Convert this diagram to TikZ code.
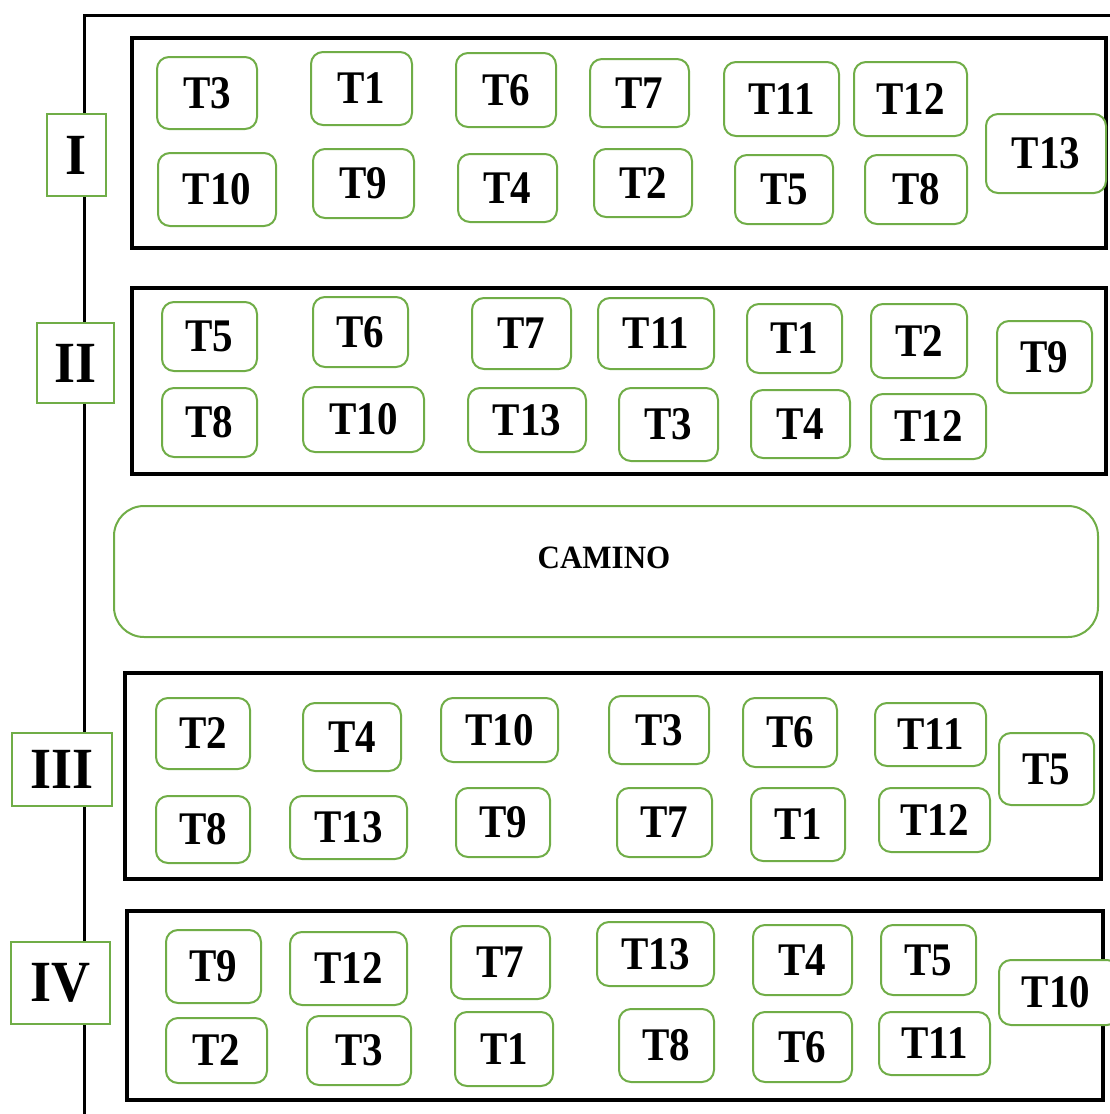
\documentclass[tikz,border=0pt]{standalone}
\usepackage{fontspec}
\usepackage{graphicx}
\setmainfont{Liberation Serif}
\definecolor{tgreen}{RGB}{112,173,71}
\tikzset{
  tile/.style={draw=tgreen, line width=1pt, rounded corners=6pt, fill=white, inner sep=0pt,
    font=\fontsize{20.5}{24}\selectfont\bfseries},
  seclabel/.style={draw=tgreen, line width=1pt, fill=white, inner sep=0pt,
    font=\fontsize{27}{30}\selectfont\bfseries},
  secbox/.style={draw=black, line width=2pt, inner sep=0pt},
  road/.style={draw=tgreen, line width=1pt, rounded corners=15pt, inner sep=0pt,
    font=\fontsize{15}{18}\selectfont\bfseries},
}
% generic box given by pixel corners (x1,y1)-(x2,y2)
\newcommand\pxbox[7]{%
  \pgfmathsetmacro\bxw{(#5-#3)*0.5}%
  \pgfmathsetmacro\bxh{(#6-#4)*0.5}%
  \node[#1, minimum width=\bxw pt, minimum height=\bxh pt] (#2) at ({(#3+#5)/2},{(#4+#6)/2}) {#7};}
\newcommand\tl[6]{\pxbox{tile}{#1}{#2}{#3}{#4}{#5}{\raisebox{-1pt}{\scalebox{1}[1.14]{#6}}}}
\begin{document}
\begin{tikzpicture}[x=0.5pt,y=-0.5pt]
\useasboundingbox (0,0) rectangle (1109,1114);
% outer frame
\coordinate (frTR) at (1130,15);
\coordinate (frTL) at (84,15);
\coordinate (frBL) at (84,1130);
\draw[line width=1.5pt] (frTR) -- (frTL) -- (frBL);
% section boxes
\pxbox{secbox}{secI}{132}{38}{1106}{248}{}
\pxbox{secbox}{secII}{132}{288}{1106}{474}{}
\pxbox{secbox}{secIII}{125}{673}{1101}{879}{}
\pxbox{secbox}{secIV}{127}{911}{1103}{1100}{}
% section labels
\pxbox{seclabel}{labI}{47}{114}{106}{196}{\scalebox{1}[1.08]{I}}
\pxbox{seclabel}{labII}{37}{323}{114}{403}{\scalebox{1}[1.08]{II}}
\pxbox{seclabel}{labIII}{12}{733}{112}{806}{\scalebox{1}[1.08]{III}}
\pxbox{seclabel}{labIV}{11}{942}{110}{1024}{\scalebox{1}[1.08]{IV}}
% road
\pxbox{road}{camino}{114}{506}{1098}{637}{}
\node[font=\fontsize{15.5}{18}\selectfont\bfseries, inner sep=0pt] (caminoText) at (604,558) {\scalebox{1}[1.05]{CAMINO}};
% Section I
\tl{a3}{157}{57}{257}{129}{T3}
\tl{a1}{311}{52}{412}{125}{T1}
\tl{a6}{456}{53}{556}{127}{T6}
\tl{a7}{590}{59}{689}{127}{T7}
\tl{a11}{724}{62}{839}{136}{T11}
\tl{a12}{854}{62}{967}{136}{T12}
\tl{a13}{986}{114}{1106}{193}{T13}
\tl{a10}{158}{153}{276}{226}{T10}
\tl{a9}{313}{149}{414}{218}{T9}
\tl{a4}{458}{154}{557}{222}{T4}
\tl{a2}{594}{149}{692}{217}{T2}
\tl{a5}{735}{155}{833}{224}{T5}
\tl{a8}{865}{155}{967}{224}{T8}
% Section II
\tl{b5}{162}{302}{257}{371}{T5}
\tl{b6}{313}{297}{408}{367}{T6}
\tl{b7}{472}{298}{571}{369}{T7}
\tl{b11}{598}{298}{714}{369}{T11}
\tl{b1}{747}{304}{842}{373}{T1}
\tl{b2}{871}{304}{967}{378}{T2}
\tl{b9}{997}{321}{1092}{393}{T9}
\tl{b8}{162}{388}{257}{457}{T8}
\tl{b10}{303}{387}{424}{452}{T10}
\tl{b13}{468}{388}{586}{452}{T13}
\tl{b3}{619}{388}{718}{461}{T3}
\tl{b4}{751}{390}{850}{458}{T4}
\tl{b12}{871}{394}{986}{459}{T12}
% Section III
\tl{c2}{156}{698}{250}{769}{T2}
\tl{c4}{303}{703}{401}{771}{T4}
\tl{c10}{441}{698}{558}{762}{T10}
\tl{c3}{609}{696}{709}{764}{T3}
\tl{c6}{743}{698}{837}{767}{T6}
\tl{c11}{875}{703}{986}{766}{T11}
\tl{c5}{999}{733}{1094}{805}{T5}
\tl{c8}{156}{796}{250}{863}{T8}
\tl{c13}{290}{796}{407}{859}{T13}
\tl{c9}{456}{788}{550}{857}{T9}
\tl{c7}{617}{788}{712}{857}{T7}
\tl{c1}{751}{788}{845}{861}{T1}
\tl{c12}{879}{788}{990}{852}{T12}
% Section IV
\tl{d9}{166}{930}{261}{1003}{T9}
\tl{d12}{290}{932}{407}{1005}{T12}
\tl{d7}{451}{926}{550}{999}{T7}
\tl{d13}{597}{922}{714}{986}{T13}
\tl{d4}{753}{925}{852}{995}{T4}
\tl{d5}{881}{925}{976}{995}{T5}
\tl{d10}{999}{960}{1119}{1025}{\hspace*{-3pt}T10}
\tl{d2}{166}{1018}{267}{1083}{T2}
\tl{d3}{307}{1016}{411}{1085}{T3}
\tl{d1}{455}{1012}{553}{1086}{T1}
\tl{d8}{619}{1009}{714}{1082}{T8}
\tl{d6}{753}{1012}{852}{1082}{T6}
\tl{d11}{879}{1012}{990}{1075}{T11}
\end{tikzpicture}
\end{document}
